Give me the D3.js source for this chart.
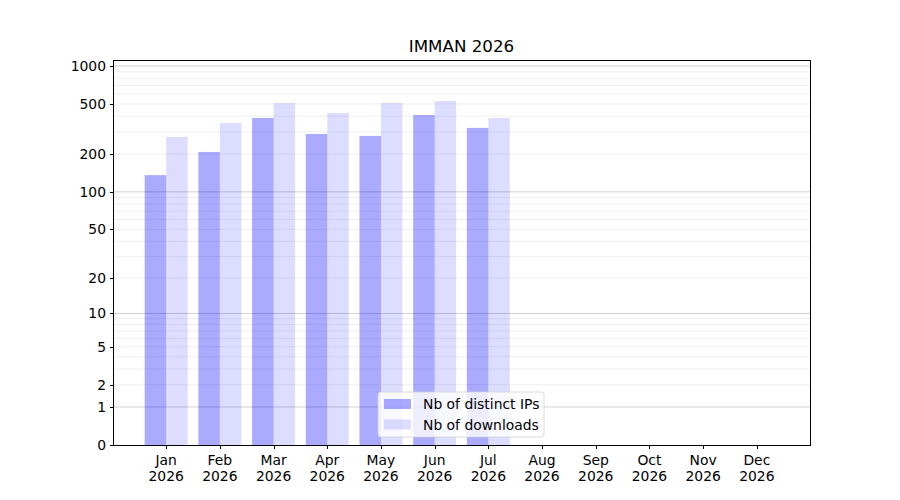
<!DOCTYPE html>
<html>
<head>
<meta charset="utf-8">
<script src="https://cdn.jsdelivr.net/npm/d3@7"></script>
<style>
  body { margin: 0; background: #fff; }
  text { font-family: "DejaVu Sans", sans-serif; fill: #000; }
</style>
</head>
<body>
<div id="chart"></div>
<script>
// data
const months = ["Jan", "Feb", "Mar", "Apr", "May", "Jun", "Jul", "Aug", "Sep", "Oct", "Nov", "Dec"];
const year = "2026";
const distinctIPs = [136, 208, 387, 289, 279, 409, 323, 0, 0, 0, 0, 0];
const downloads = [274, 353, 509, 424, 509, 528, 387, 0, 0, 0, 0, 0];
const yTicks = [0, 1, 2, 5, 10, 20, 50, 100, 200, 500, 1000];
const majorGrid = [1, 10, 100, 1000];
const minorGrid = [2, 3, 4, 5, 6, 7, 8, 9, 20, 30, 40, 50, 60, 70, 80, 90,
                   200, 300, 400, 500, 600, 700, 800, 900];

const W = 900, H = 500;
const margin = {top: 60, right: 90, bottom: 55, left: 113};
const width = W - margin.left - margin.right,
      height = H - margin.top - margin.bottom;

const svg = d3.select("#chart").append("svg")
    .attr("width", W)
    .attr("height", H);

const g = svg.append("g")
    .attr("transform", "translate(" + margin.left + "," + margin.top + ")");

// x: month index, bars 0.4 wide each side of the tick
const x = d3.scaleLinear().domain([-0.99, 11.99]).range([0, width]);
// y: log(1+v) style scale
const y = d3.scaleSymlog().constant(1).domain([0, 1116]).range([height, 0]);

// grid
g.selectAll(".minor").data(minorGrid).join("line")
    .attr("x1", 0).attr("x2", width)
    .attr("y1", d => y(d)).attr("y2", d => y(d))
    .style("stroke", "#ebebeb").style("stroke-width", 0.8);
g.selectAll(".major").data(majorGrid).join("line")
    .attr("x1", 0).attr("x2", width)
    .attr("y1", d => y(d)).attr("y2", d => y(d))
    .style("stroke", "#c4c4c4").style("stroke-width", 0.8);

const bw = x(0.4) - x(0);

g.selectAll(".ip").data(distinctIPs).join("rect")
    .attr("x", (d, i) => x(i - 0.4))
    .attr("y", d => y(d))
    .attr("width", bw)
    .attr("height", d => y(0) - y(d))
    .style("fill", "blue").style("fill-opacity", 1 / 3);

g.selectAll(".dl").data(downloads).join("rect")
    .attr("x", (d, i) => x(i))
    .attr("y", d => y(d))
    .attr("width", bw)
    .attr("height", d => y(0) - y(d))
    .style("fill", "blue").style("fill-opacity", 0.133);

// axes
const yAxis = g.append("g")
    .call(d3.axisLeft(y).tickValues(yTicks).tickFormat(d3.format("d")).tickSize(3.5).tickPadding(3.5));
const xAxis = g.append("g")
    .attr("transform", "translate(0," + height + ")")
    .call(d3.axisBottom(x).tickValues(d3.range(12)).tickFormat("").tickSize(3.5));

[yAxis, xAxis].forEach(a => {
  a.select(".domain").remove();
  a.selectAll("line").style("stroke", "#000").style("stroke-width", 1)
    .attr("shape-rendering", "crispEdges");
  a.selectAll("text").style("font-size", "13.9px").style("font-family", "DejaVu Sans");
});

// two line month labels
const lab = xAxis.selectAll(".mlab").data(months).join("text")
    .attr("text-anchor", "middle")
    .attr("x", (d, i) => x(i))
    .style("font-size", "13.9px");
lab.append("tspan").attr("x", (d, i) => x(i)).attr("y", 20).text(d => d);
lab.append("tspan").attr("x", (d, i) => x(i)).attr("y", 36).text(year);

// frame
g.append("rect")
    .attr("x", 0.5).attr("y", 0.5)
    .attr("width", width).attr("height", height)
    .attr("shape-rendering", "crispEdges")
    .style("fill", "none").style("stroke", "#000").style("stroke-width", 1);

// title
svg.append("text")
    .attr("x", margin.left + width / 2)
    .attr("y", 52)
    .attr("text-anchor", "middle")
    .style("font-size", "16.7px")
    .text("IMMAN " + year);

// legend
const legend = svg.append("g").attr("transform", "translate(378,392)");
legend.append("rect")
    .attr("width", 166).attr("height", 45).attr("rx", 3)
    .style("fill", "#fff").style("fill-opacity", 0.8)
    .style("stroke", "#d0d0d0").style("stroke-width", 0.8);
const items = [
  {label: "Nb of distinct IPs", op: 1 / 3},
  {label: "Nb of downloads", op: 0.133}
];
const li = legend.selectAll(".li").data(items).join("g")
    .attr("transform", (d, i) => "translate(6," + (7 + i * 20.5) + ")");
li.append("rect").attr("width", 27).attr("height", 10)
    .style("fill", "blue").style("fill-opacity", d => d.op);
li.append("text").attr("x", 39).attr("y", 10)
    .style("font-size", "13.9px")
    .text(d => d.label);
</script>
</body>
</html>
